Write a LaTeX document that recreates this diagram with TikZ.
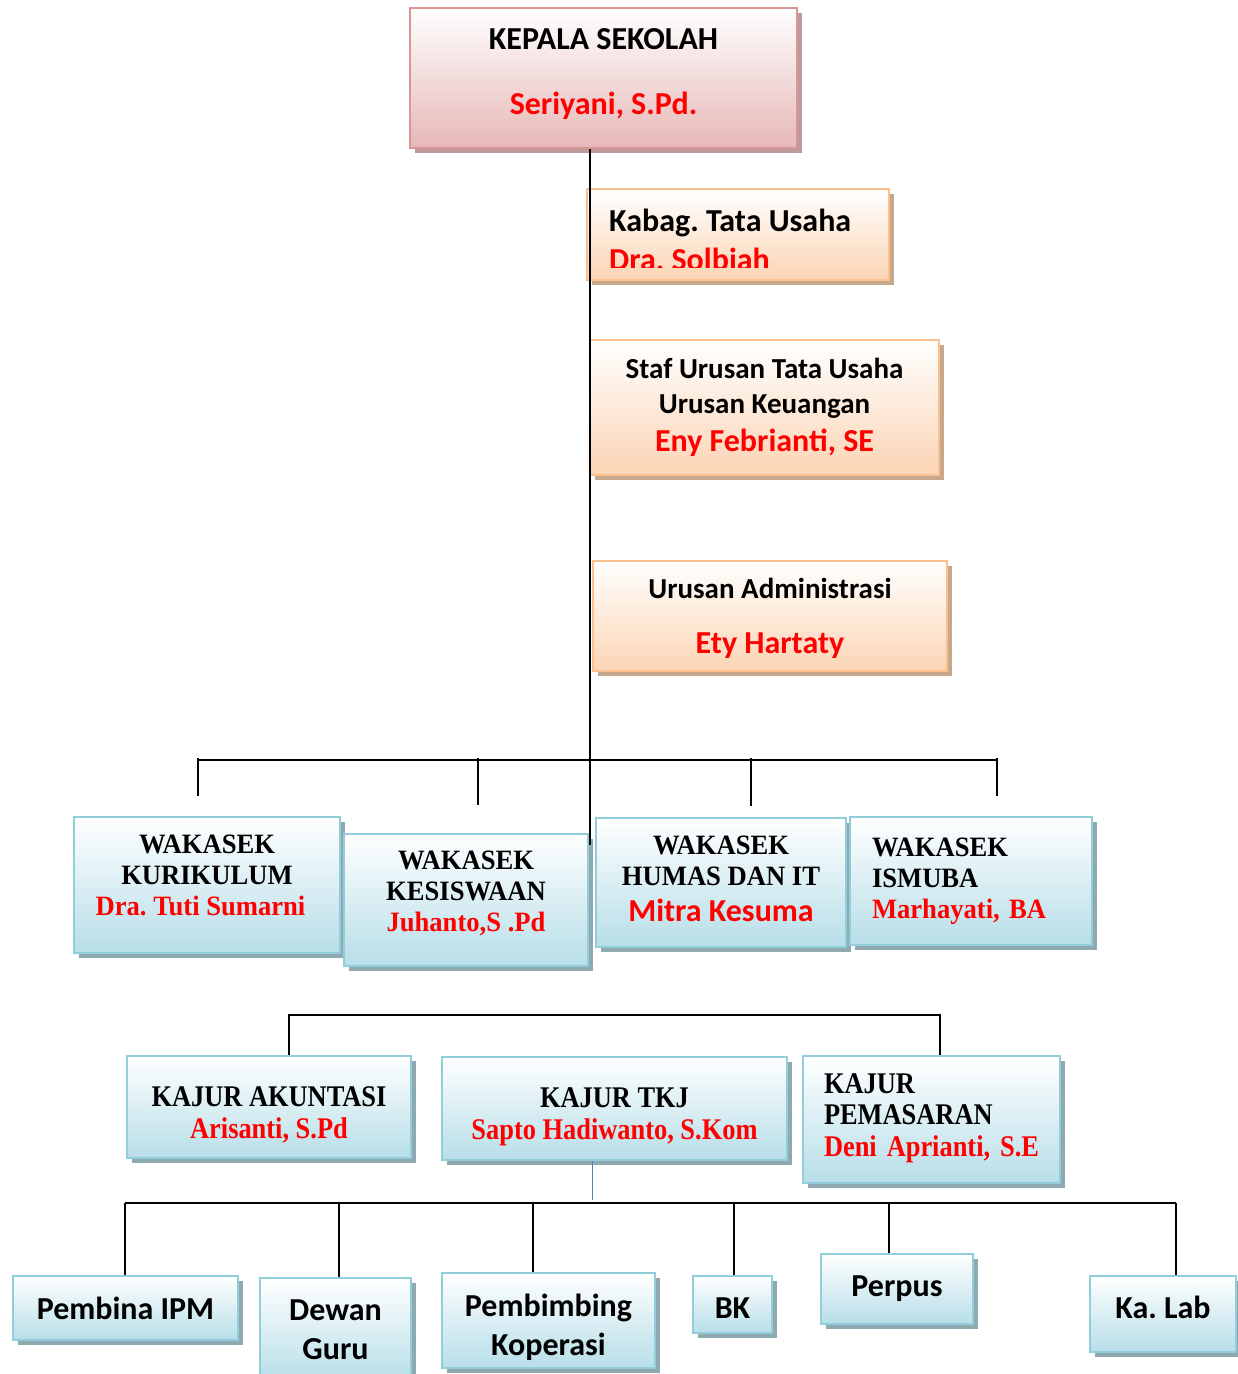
\documentclass[tikz,border=0pt]{standalone}
\usepackage{fontspec}
\setmainfont{Carlito}
\newfontfamily\wakafont[FakeStretch=0.95]{Liberation Serif}
\newfontfamily\kajurfont[FakeStretch=0.88]{Liberation Serif}
\usetikzlibrary{positioning,shadows}

\definecolor{pinkline}{RGB}{217,150,148}
\definecolor{pinkfill}{RGB}{230,184,183}
\definecolor{pinkshade}{RGB}{190,155,154}
\definecolor{orangeline}{RGB}{250,192,144}
\definecolor{orangefill}{RGB}{251,212,180}
\definecolor{orangeshade}{RGB}{200,168,140}
\definecolor{blueline}{RGB}{146,205,220}
\definecolor{bluefill}{RGB}{183,222,232}
\definecolor{blueshade}{RGB}{142,169,176}
\definecolor{tkjblue}{RGB}{79,129,189}

\newcommand{\nama}[1]{{\color{red}#1}}
\newcommand{\atas}[1]{\rule{0pt}{#1}}

\tikzset{
  basic/.style    = {draw, line width=2.5pt, inner sep=0pt, align=center,
                     top color=white},
  boxsize/.style 2 args = {minimum width=#1, minimum height=#2},
  % geser teks ke atas di dalam kotak
  naik/.style     = {execute at end node={\rule[-#1]{0pt}{#1}}},
  kepala/.style   = {basic, draw=pinkline, bottom color=pinkfill,
                     font=\bfseries\fontsize{32}{39}\selectfont,
                     drop shadow={shadow xshift=5pt, shadow yshift=-5pt,
                                  fill=pinkshade, opacity=1}},
  tatausaha/.style = {basic, draw=orangeline, bottom color=orangefill,
                     font=\bfseries\fontsize{29}{35}\selectfont,
                     drop shadow={shadow xshift=5pt, shadow yshift=-5pt,
                                  fill=orangeshade, opacity=1}},
  biru/.style     = {basic, draw=blueline, bottom color=bluefill,
                     drop shadow={shadow xshift=5pt, shadow yshift=-5pt,
                                  fill=blueshade, opacity=1}},
  wakasek/.style  = {biru, font=\wakafont\bfseries\fontsize{28}{31}\selectfont},
  kajur/.style    = {biru, font=\kajurfont\bfseries\fontsize{30}{31.5}\selectfont},
  unit/.style     = {biru, font=\bfseries\fontsize{32}{39}\selectfont},
  garis/.style    = {line width=1.6pt}
}

\begin{document}
\frenchspacing
\begin{tikzpicture}[x=1pt, y=-1pt]
\useasboundingbox (0,0) rectangle (1238,1374);

% pimpinan dan tata usaha
\node[kepala, boxsize={387pt}{140pt}, naik=12pt] (kepala) at (603.5,78)
  {KEPALA SEKOLAH\\[26pt]\nama{Seriyani, S.Pd.}};
\node[tatausaha, boxsize={302pt}{91pt}] (kabag) at (738,234.5) {};
\begin{scope}
  \clip ([yshift=14pt]kabag.south west) rectangle (kabag.north east);
  \node[anchor=base west, align=left, inner sep=0pt,
        font=\bfseries\fontsize{32}{39}\selectfont] (kabagtext) at (609,270)
    {Kabag. Tata Usaha\\\nama{Dra. Solbiah}};
\end{scope}
\node[tatausaha, boxsize={349pt}{135pt}] (staf) at (764.5,407.5)
  {Staf Urusan Tata Usaha\\Urusan Keuangan\\[3pt]
   \nama{\fontsize{32}{38}\selectfont Eny Febrianti, SE}};
\node[tatausaha, boxsize={354pt}{110pt}] (admin) at (770,616)
  {\atas{26pt}Urusan Administrasi\\[20pt]\nama{\fontsize{32}{38}\selectfont Ety Hartaty}};

% wakil kepala sekolah
\node[wakasek, boxsize={266pt}{136pt}, naik=19pt] (kur) at (207,885)
  {WAKASEK\\KURIKULUM\\\nama{Dra. Tuti Sumarni}\hspace*{13pt}};
\node[wakasek, boxsize={244pt}{132pt}, naik=17pt] (kes) at (466,900)
  {WAKASEK\\KESISWAAN\\\nama{Juhanto,S .Pd}};
\node[wakasek, boxsize={250pt}{129pt}, naik=8pt] (hum) at (721,882.5)
  {WAKASEK\\HUMAS DAN IT\\[5pt]
   \nama{\normalfont\bfseries\fontsize{32}{38}\selectfont Mitra Kesuma}};
\node[wakasek, boxsize={242pt}{128pt}, align=left, text width=198pt, naik=4pt] (ism) at (971,881)
  {WAKASEK\\ISMUBA\\\nama{Marhayati, BA}};

% ketua jurusan
\node[kajur, boxsize={284pt}{102pt}] (akt) at (269,1107)
  {\atas{36pt}KAJUR AKUNTASI\\\nama{Arisanti, S.Pd}};
\node[kajur, boxsize={345pt}{103pt}] (tkj) at (614.5,1108.5)
  {\atas{36pt}KAJUR TKJ\\\nama{Sapto Hadiwanto, S.Kom}};
\node[kajur, boxsize={257pt}{127pt}, align=left, text width=215pt, naik=9pt] (pms) at (931.5,1119.5)
  {KAJUR\\PEMASARAN\\\nama{\mbox{Deni Aprianti, S.E}}};

% unit pendukung
\node[unit, boxsize={225pt}{64pt}] (ipm) at (125.5,1308) {Pembina IPM};
\node[unit, boxsize={151pt}{104pt}] (dewan) at (335.5,1330) {Dewan\\Guru};
\node[unit, boxsize={213pt}{95pt}] (kop) at (548.5,1320.5) {\atas{36pt}Pembimbing\\Koperasi};
\node[unit, boxsize={79pt}{57pt}] (bk) at (732.5,1304.5) {\atas{28pt}BK};
\node[unit, boxsize={152pt}{70pt}] (perpus) at (897,1289) {Perpus};
\node[unit, boxsize={146pt}{76pt}, naik=14pt] (lab) at (1163,1314) {Ka. Lab};

% garis komando
\coordinate (trunk) at (590,845);
\draw[garis] (trunk |- kepala.south) -- (trunk);
\coordinate (bus1l) at (198,760);
\coordinate (bus1r) at (997,760);
\draw[garis] (bus1l) -- (bus1r);
\foreach \x/\len in {198/38, 478/47, 751/48, 997/38}
  \draw[garis] (\x,758) -- ++(0,\len);

\coordinate (bus2l) at (289,1015);
\coordinate (bus2r) at (940,1015);
\draw[garis] (bus2l |- akt.north) -- (bus2l) -- (bus2r) -- (bus2r |- pms.north);

\coordinate (tkjdrop) at (592,1200);
\draw[line width=1pt, tkjblue] (tkjdrop |- tkj.south) -- (tkjdrop);

\coordinate (bus3l) at (125,1203);
\coordinate (bus3r) at (1176,1203);
\draw[garis] (bus3l) -- (bus3r);
\foreach \x/\n in {125/ipm, 339/dewan, 533/kop, 734/bk, 889/perpus, 1176/lab}
  \draw[garis] (\x,1203) coordinate (drop) -- (drop |- \n.north);

\end{tikzpicture}
\end{document}
